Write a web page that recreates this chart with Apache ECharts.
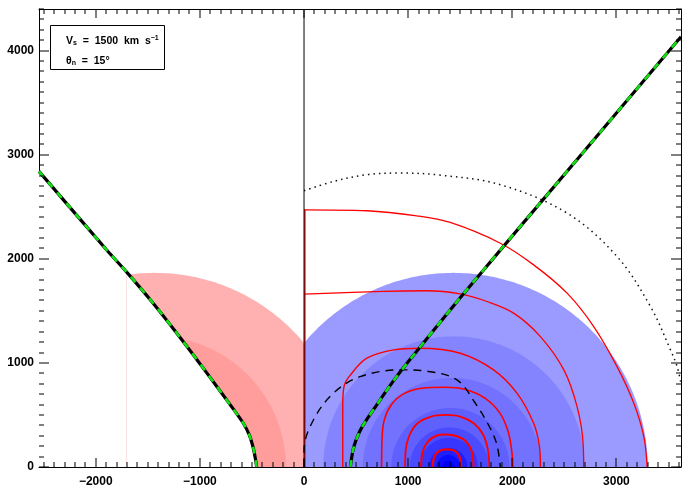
<!DOCTYPE html>
<html>
<head>
<meta charset="utf-8">
<script src="https://cdn.jsdelivr.net/npm/echarts@6/dist/echarts.min.js"></script>
<style>
  html, body { margin: 0; padding: 0; background: #fff; }
  #chart { width: 683px; height: 488px; }
</style>
</head>
<body>
<div id="chart"></div>
<script>
// axis ranges and tick labels
const X_MIN = -2545, X_MAX = 3620, Y_MIN = 0, Y_MAX = 4400;
const xTicks = [-2000, -1000, 0, 1000, 2000, 3000];
const yTicks = [0, 1000, 2000, 3000, 4000];
const minorStep = 100;

// shaded half-discs: centre on the x axis, radius
const pinkCenters = [-1435, -1430];
const pinkRadii = [1865, 1255];
const pinkColors = ["#ffb0b0", "#ff9c9c"];

const blueCenters = [1435, 1440, 1420, 1405, 1395, 1390, 1385, 1385, 1385];
const blueRadii = [1865, 1255, 856, 567, 380, 279, 183, 115, 60];
const blueColors = ["#9a9aff", "#8484ff", "#7272ff", "#6060ff", "#4b4bff", "#3636ff", "#2020ff", "#0c0cff", "#0000f8"];

// shock fronts
const shockLeft = [[-2545, 2840], [-1897, 2087], [-1705, 1875], [-1449, 1574], [-1192, 1247], [-936, 907],
  [-680, 558], [-583, 420], [-526, 308], [-487, 180], [-465, 67], [-455, 0]];
const shockRight = [[445, 0], [468, 150], [500, 260], [560, 390], [700, 600], [850, 815], [1000, 1010],
  [1536, 1670], [2702, 3048], [3620, 4134]];
const faintEdge = [[-1705, 0], [-1705, 1875]];

// red contours, outer to inner
const contourWall = [[8, 0], [8, 2471]];
const contourG = [[0, 2471], [603, 2462], [1083, 2413], [1404, 2349], [1885, 2150], [2205, 1942], [2526, 1670],
  [2782, 1349], [3006, 964], [3167, 612], [3263, 291], [3295, 0]];
const contourF = [[0, 1660], [763, 1688], [1180, 1693], [1500, 1663], [1757, 1590], [2013, 1478], [2270, 1253],
  [2495, 933], [2622, 580], [2680, 228], [2685, 0]];
const contourE = [[372, 0], [372, 600], [385, 780], [442, 880], [603, 1045], [859, 1125], [1115, 1141],
  [1500, 1093], [1820, 933], [2045, 709], [2205, 420], [2260, 200], [2270, 0]];
const contourD = [[745, 0], [748, 250], [770, 450], [840, 600], [960, 705], [1130, 757], [1350, 766],
  [1550, 745], [1740, 660], [1880, 520], [1960, 340], [1995, 150], [2005, 0]];
const contourC = [[971, 0], [975, 150], [1010, 300], [1090, 420], [1220, 485], [1356, 500], [1500, 485],
  [1630, 420], [1720, 310], [1765, 170], [1780, 0]];
const contourB = [[1125, 0], [1135, 130], [1185, 240], [1270, 300], [1365, 313], [1470, 295], [1560, 240],
  [1610, 150], [1628, 0]];
const contourA = [[1237, 0], [1245, 80], [1280, 140], [1340, 168], [1378, 170], [1430, 163], [1475, 130],
  [1500, 80], [1510, 0]];

// black dashed and dotted arcs
const dashedArc = [[0, 0], [0, 163], [90, 452], [282, 709], [538, 868], [923, 933], [1180, 920], [1468, 837],
  [1644, 615], [1788, 372], [1853, 212], [1885, 0]];
const dottedArc = [[0, 2654], [282, 2743], [603, 2808], [923, 2824], [1300, 2805], [1885, 2712], [2526, 2439],
  [3006, 2022], [3327, 1541], [3519, 1125], [3583, 964], [3620, 800]];
const centreLine = [[0, 0], [0, 4400]];

const FONT = "Liberation Sans";

function minorValues(lo, hi) {
  const out = [];
  for (let v = Math.ceil(lo / minorStep) * minorStep; v <= hi; v += minorStep) {
    if (v % 1000 !== 0) out.push(v);
  }
  return out;
}

// frame only: ticks and labels are drawn by the custom series below
function axis(min, max, position) {
  return {
    type: "value",
    position,
    min,
    max,
    axisLine: { show: true, onZero: false, lineStyle: { color: "#000", width: 1 } },
    axisTick: { show: false },
    axisLabel: { show: false },
    splitLine: { show: false },
  };
}

const fmtX = (v) => (v < 0 ? "\u2212" + -v : String(v));

// tick marks on one side of the frame, placed through the axes' scales
function tickSeries(values, side, len) {
  const horizontal = side === "bottom" || side === "top";
  return {
    type: "custom",
    silent: true,
    clip: false,
    z: 20,
    data: values.map((v) => (horizontal ? [v, Y_MIN] : [X_MIN, v])),
    encode: { x: 0, y: 1 },
    renderItem: function (params, api) {
      const cs = params.coordSys;
      const p = api.coord([api.value(0), api.value(1)]);
      let rect;
      if (horizontal) {
        const x = Math.round(p[0]) - 0.5;
        rect = side === "bottom"
          ? { x: x, y: cs.y + cs.height - len, width: 1, height: len }
          : { x: x, y: cs.y, width: 1, height: len };
      } else {
        const y = Math.round(p[1]) - 0.5;
        rect = side === "left"
          ? { x: cs.x, y: y, width: len, height: 1 }
          : { x: cs.x + cs.width - len, y: y, width: len, height: 1 };
      }
      return { type: "rect", shape: rect, style: { fill: "#000" } };
    },
  };
}

// tick labels, placed through the axes' scales
function labelSeries(values, dir) {
  return {
    type: "custom",
    silent: true,
    clip: false,
    z: 20,
    data: values.map((v) => (dir === "x" ? [v, Y_MIN] : [X_MIN, v])),
    encode: { x: 0, y: 1 },
    renderItem: function (params, api) {
      const cs = params.coordSys;
      const p = api.coord([api.value(0), api.value(1)]);
      const isX = dir === "x";
      return {
        type: "text",
        x: isX ? p[0] : cs.x - 5,
        y: isX ? cs.y + cs.height + 15 : p[1],
        style: {
          text: isX ? fmtX(api.value(0)) : String(api.value(1)),
          fill: "#000",
          font: "bold 12px '" + FONT + "'",
          align: isX ? "center" : "right",
          verticalAlign: "middle",
        },
      };
    },
  };
}

function diskSeries(centers, radii, colors, side) {
  return {
    type: "custom",
    silent: true,
    clip: true,
    data: radii.map((r, i) => [centers[i], r, i]),
    encode: { x: 0, y: 1 },
    renderItem(params, api) {
      const cx = api.value(0), r = api.value(1), i = api.value(2);
      const pts = [];
      for (let k = 0; k <= 180; k++) {
        const t = (Math.PI * k) / 180;
        let x = cx + r * Math.cos(t);
        x = side > 0 ? Math.max(0, x) : Math.min(0, x);
        pts.push(api.coord([x, r * Math.sin(t)]));
      }
      return { type: "polygon", shape: { points: pts }, style: { fill: colors[i] } };
    },
  };
}

function line(data, color, width, type, extra) {
  return Object.assign({
    type: "line",
    data,
    symbol: "none",
    silent: true,
    clip: true,
    lineStyle: { color, width, type },
  }, extra || {});
}

const contourList = [
  [contourG, 1.3], [contourF, 1.3], [contourE, 1.4], [contourD, 1.6],
  [contourC, 1.8], [contourB, 2], [contourA, 2.2],
];

const subStyle = { fontSize: 7, fontWeight: "bold", fontFamily: FONT, verticalAlign: "bottom", padding: [5, 0, 0, 0] };
const supStyle = { fontSize: 7, fontWeight: "bold", fontFamily: FONT, verticalAlign: "top", padding: [0, 0, 5, 0] };

const xMinor = minorValues(X_MIN, X_MAX);
const yMinor = minorValues(Y_MIN, Y_MAX);

const chart = echarts.init(document.getElementById("chart"), null, { renderer: "canvas" });
chart.setOption({
  animation: false,
  textStyle: { fontFamily: FONT },
  grid: { left: 39, right: 2, top: 9, bottom: 21 },
  xAxis: [axis(X_MIN, X_MAX, "bottom"), axis(X_MIN, X_MAX, "top")],
  yAxis: [axis(Y_MIN, Y_MAX, "left"), axis(Y_MIN, Y_MAX, "right")],
  series: [
    diskSeries(pinkCenters, pinkRadii, pinkColors, -1),
    line(shockLeft, "#fff", 0, "solid", { smooth: 0.3, areaStyle: { color: "#fff", opacity: 1 } }),
    line(faintEdge, "#fbe3e3", 1, "solid"),
    diskSeries(blueCenters, blueRadii, blueColors, 1),
    line(contourWall, "#ff0000", 1.5, "solid"),
    ...contourList.map(([d, w]) => line(d, "#ff0000", w, "solid", { smooth: 0.35 })),
    line(dashedArc, "#000", 1.4, [8, 6], { smooth: 0.35 }),
    line(dottedArc, "#111", 1.5, [1.5, 4], { smooth: 0.35 }),
    line(centreLine, "#000", 1, "solid"),
    line(shockLeft, "#000", 3.2, "solid", { smooth: 0.3 }),
    line(shockRight, "#000", 3.2, "solid", { smooth: 0.3 }),
    line(shockLeft, "#12e012", 2.6, [7, 7], { smooth: 0.3 }),
    line(shockRight, "#12e012", 2.6, [7, 7], { smooth: 0.3 }),
    tickSeries(xTicks, "bottom", 9),
    tickSeries(xTicks, "top", 9),
    tickSeries(yTicks, "left", 10),
    tickSeries(yTicks, "right", 10),
    tickSeries(xMinor, "bottom", 5),
    tickSeries(xMinor, "top", 5),
    tickSeries(yMinor, "left", 5),
    tickSeries(yMinor, "right", 5),
    labelSeries(xTicks, "x"),
    labelSeries(yTicks, "y"),
  ],
  graphic: [
    {
      type: "rect",
      shape: { x: 50.5, y: 25.5, width: 114, height: 44 },
      style: { fill: "#fff", stroke: "#000", lineWidth: 1 },
      z: 100,
    },
    {
      type: "text",
      x: 66,
      y: 41,
      z: 101,
      style: {
        text: "V{sub|s}  =  1500  km  s{sup|\u22121}",
        fontFamily: FONT,
        fontWeight: "bold",
        fontSize: 10.5,
        verticalAlign: "middle",
        fill: "#000",
        rich: { sub: subStyle, sup: supStyle },
      },
    },
    {
      type: "text",
      x: 66,
      y: 61,
      z: 101,
      style: {
        text: "\u03b8{sub|n}  =  15\u00b0",
        fontFamily: FONT,
        fontWeight: "bold",
        fontSize: 10.5,
        verticalAlign: "middle",
        fill: "#000",
        rich: { sub: subStyle },
      },
    },
  ],
});
</script>
</body>
</html>
